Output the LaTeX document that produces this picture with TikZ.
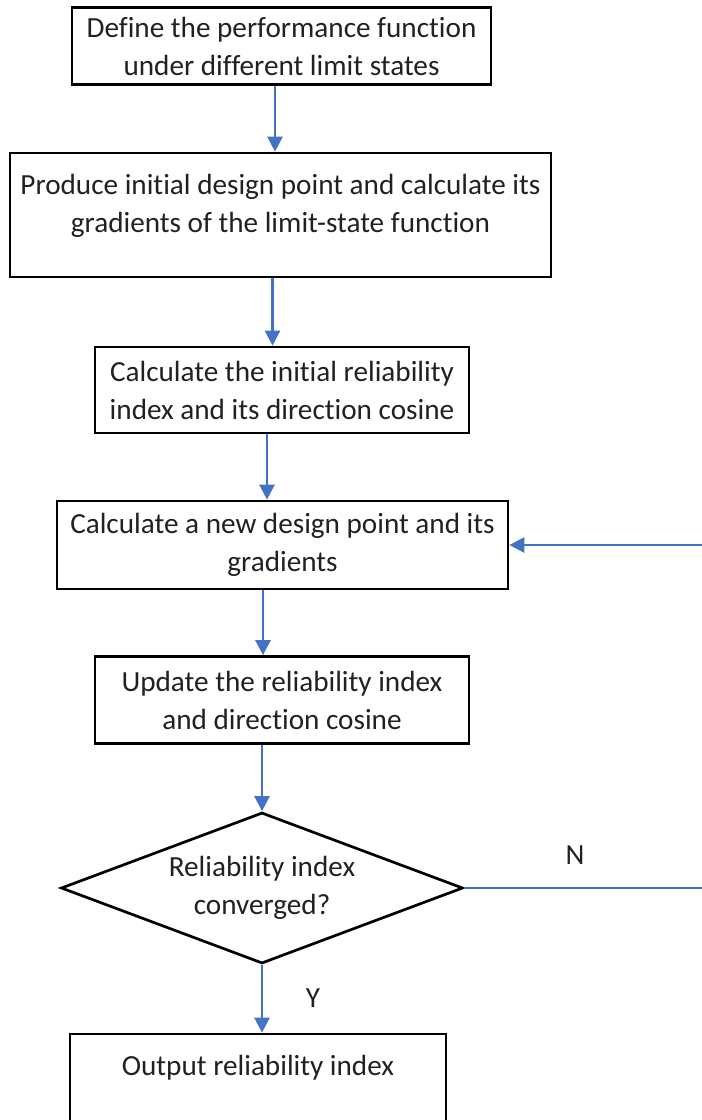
\documentclass[tikz,border=0pt]{standalone}
\usepackage{fontspec}
\setmainfont{Carlito}[Ligatures=NoCommon]
\usetikzlibrary{arrows.meta,shapes.geometric}
\usepackage{xcolor}
\definecolor{flowblue}{HTML}{4472C4}

\begin{document}
\begin{tikzpicture}[x=1pt,y=-1pt,
  txt/.style={font=\fontsize{29.2}{38}\selectfont,text=black!87},
  stepbox/.style={txt,draw,line width=2.7pt,align=center,inner sep=0pt},
  decision/.style={txt,draw,diamond,line width=2.7pt,align=center,inner sep=0pt,shape aspect=2.66},
  flow/.style={flowblue,line width=2.5pt,-{Triangle[length=15pt,width=15pt]}}]
  \clip (0,0) rectangle (702,1120);

  % steps of the iteration
  \node[stepbox,minimum width=419pt,minimum height=77pt] (perf) at (281.5,46)
    {Define the performance function\\under different limit states};
  \node[stepbox,minimum width=541pt,text height=79pt,text depth=45pt] (init) at (280.5,215)
    {Produce initial design point and calculate its\\gradients of the limit-state function};
  \node[stepbox,minimum width=374pt,minimum height=86pt] (initbeta) at (282,390)
    {Calculate the initial reliability\\index and its direction cosine};
  \node[stepbox,minimum width=451pt,minimum height=88pt] (newpt) at (282.5,545)
    {Calculate a new design point and its\\gradients};
  \node[stepbox,minimum width=374pt,minimum height=87pt] (update) at (282,700)
    {Update the reliability index\\and direction cosine};
  \node[decision,minimum width=402pt,minimum height=151pt] (conv) at (262,888)
    {Reliability index\\converged?};
  \node[stepbox,minimum width=376pt,text height=41pt,text depth=46pt] (out) at (258,1077.5)
    {Output reliability index};

  % branch labels
  \node[txt] (nlabel) at (575,855) {N};
  \node[txt] (ylabel) at (313,998) {Y};

  % connectors
  \draw[flow] ([xshift=-6.5pt]perf.south) -- ([xshift=-6.5pt]perf.south |- init.north);
  \draw[flow] ([xshift=-8pt]init.south) -- ([xshift=-8pt]init.south |- initbeta.north);
  \draw[flow] ([xshift=-15pt]initbeta.south) -- ([xshift=-15pt]initbeta.south |- newpt.north);
  \draw[flow] ([xshift=-19.5pt]newpt.south) -- ([xshift=-19.5pt]newpt.south |- update.north);
  \draw[flow] (update.south -| conv.north) -- (conv.north);
  \draw[flow] (conv.south) -- (conv.south |- out.north);

  % loop back when not converged
  \coordinate (loopbot) at (712,888);
  \coordinate (looptop) at (loopbot |- newpt.east);
  \draw[flowblue,line width=1.8pt] (conv.east) -- (loopbot) -- (looptop);
  \draw[flow] (looptop) -- (newpt.east);
\end{tikzpicture}
\end{document}
